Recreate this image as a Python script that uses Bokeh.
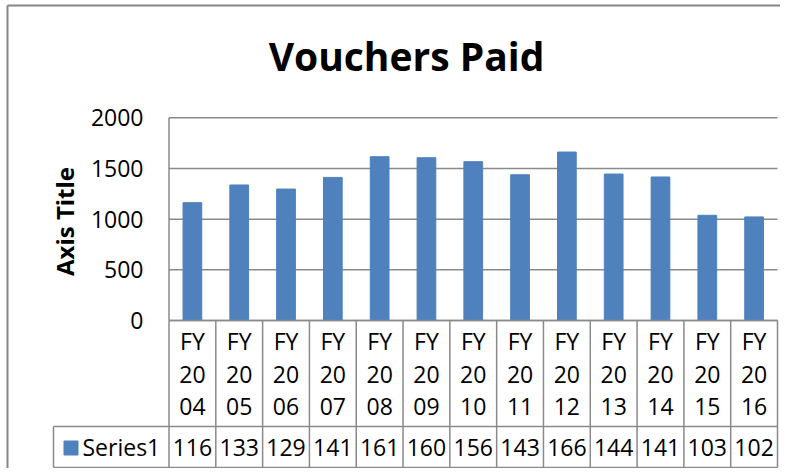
import math
from bokeh.plotting import figure
from bokeh.models import Range1d, Grid, ColumnDataSource
from bokeh.core.properties import value
from bokeh.embed import file_html
from bokeh.resources import INLINE

# ---------------- data ----------------
title_text = "Vouchers Paid"
axis_title = "Axis Title"
series_name = "Series1"
categories = ["FY 2004", "FY 2005", "FY 2006", "FY 2007", "FY 2008", "FY 2009", "FY 2010",
              "FY 2011", "FY 2012", "FY 2013", "FY 2014", "FY 2015", "FY 2016"]
vouchers = [1163, 1337, 1297, 1412, 1616, 1606, 1567, 1438, 1662, 1445, 1416, 1038, 1022]
table_labels = ["116", "133", "129", "141", "161", "160", "156", "143", "166", "144", "141", "103", "102"]
y_ticks = [0, 500, 1000, 1500, 2000]
y_tick_labels = ["0", "500", "1000", "1500", "2000"]

# ---------------- layout (pixels from the figure's top-left) ----------------
W, H = 780, 468
OFF = 0
AX_L, AX_R = 168.5, 777.0
Y0, YTOP = 320.0, 117.3
n = len(categories)
cw = (AX_R - AX_L) / n
sy = (Y0 - YTOP) / y_ticks[-1]


def dx(px):
    return (px - AX_L) / cw


def dy(py):
    return (Y0 - py) / sy


FONT = value("Open Sans")
BLUE = "#4F81BD"
GRAY = "#8A8A8A"

p = figure(width=W, height=H, output_backend="svg", toolbar_location=None,
           x_range=Range1d(dx(OFF), dx(OFF + W)), y_range=Range1d(dy(OFF + H), dy(OFF)),
           x_axis_location=None, y_axis_location=None, title=None, min_border=0,
           tools="")
p.outline_line_color = None
p.background_fill_color = "white"
p.border_fill_color = "white"
# drop default grids
p.center = [r for r in p.center if not isinstance(r, Grid)]

# horizontal gridlines across the plot area only
p.segment(x0=[0] * len(y_ticks), y0=y_ticks, x1=[n] * len(y_ticks), y1=y_ticks,
          line_color=GRAY, line_width=1.5)

# bars
xs = [i + 0.5 for i in range(n)]
src = ColumnDataSource(dict(x=xs, top=vouchers, lab=table_labels,
                            l1=[c.split()[0] for c in categories],
                            l2=[c.split()[1][:2] for c in categories],
                            l3=[c.split()[1][2:] for c in categories]))
p.vbar(x="x", top="top", width=0.4, bottom=0, source=src, fill_color=BLUE, line_color=BLUE)

# data table lines
row_mid = dy(426)
row_bot = dy(467)
hdr_left = dx(53)
x0s, y0s, x1s, y1s = [], [], [], []
# value axis line
x0s.append(0); y0s.append(0); x1s.append(0); y1s.append(y_ticks[-1])
# horizontal table lines
for yy, xl in ((0, 0), (row_mid, hdr_left), (row_bot, hdr_left)):
    x0s.append(xl); y0s.append(yy); x1s.append(n); y1s.append(yy)
# vertical table lines
for k in range(n + 1):
    x0s.append(k); y0s.append(0); x1s.append(k); y1s.append(row_bot)
x0s.append(hdr_left); y0s.append(row_mid); x1s.append(hdr_left); y1s.append(row_bot)
p.segment(x0=x0s, y0=y0s, x1=x1s, y1=y1s, line_color=GRAY, line_width=1.5)

# chart outer border (top and left only visible)
bx, by = dx(7), dy(5)
xr, yr = p.x_range, p.y_range
p.segment(x0=[bx, bx], y0=[by, yr.start], x1=[xr.end, bx], y1=[by, by],
          line_color="#868686", line_width=2)

# title
p.text(x=[dx(406)], y=[dy(55)], text=[title_text], text_font=FONT, text_font_style="bold",
       text_font_size="39px", text_align="center", text_baseline="middle", text_color="black")

# y tick labels
p.text(x=[dx(143)] * len(y_ticks), y=y_ticks, text=y_tick_labels, text_font=FONT,
       text_font_size="23px", text_align="right", text_baseline="middle", text_color="black")

# axis title
p.text(x=[dx(64)], y=[dy(221)], text=[axis_title], angle=math.pi / 2, text_font=FONT,
       text_font_style="bold", text_font_size="24px", text_align="center",
       text_baseline="middle", text_color="black")

# category labels (wrapped)
for col, py in (("l1", 340), ("l2", 373.5), ("l3", 406)):
    p.text(x="x", y=dy(py), text=col, source=src, text_font=FONT, text_font_size="23px",
           text_align="center", text_baseline="middle", text_color="black")

# values row
p.text(x="x", y=dy(446.5), text="lab", source=src, text_font=FONT, text_font_size="23px",
       text_align="center", text_baseline="middle", text_color="black")

# legend key + series name
p.scatter(x=[dx(70.5)], y=[dy(447.5)], marker="square", size=14, fill_color=BLUE, line_color=BLUE)
p.text(x=[dx(82)], y=[dy(446.5)], text=[series_name], text_font=FONT, text_font_size="23px",
       text_align="left", text_baseline="middle", text_color="black")

open("out.html", "w").write(file_html(p, INLINE))
